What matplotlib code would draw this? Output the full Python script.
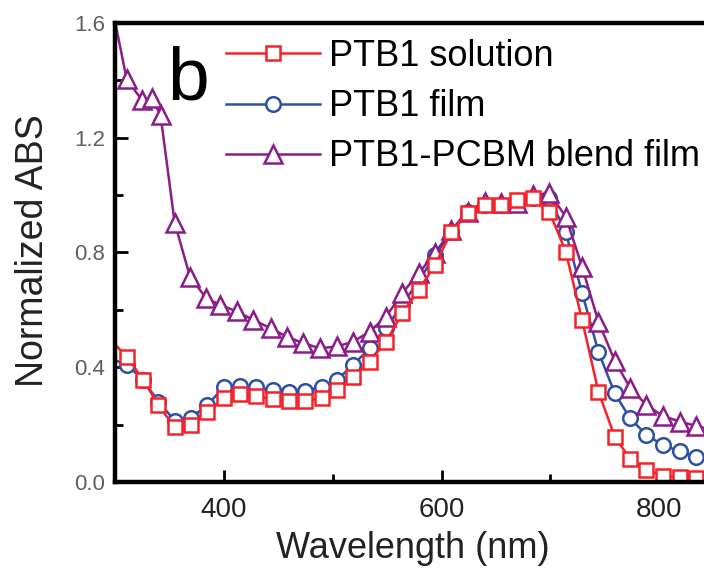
import matplotlib
matplotlib.use('Agg')
import matplotlib.pyplot as plt
from matplotlib.ticker import MultipleLocator, FormatStrFormatter

plt.rcParams['font.family'] = ['Liberation Sans', 'DejaVu Sans']

# wavelength (nm) and normalized absorbance
wl = [300, 311, 326, 340, 355, 370, 385, 400, 415, 430, 445, 460, 475, 490, 504,
      519, 534, 549, 564, 579, 594, 609, 624, 640, 655, 669, 684, 699, 714, 729,
      744, 759, 773, 788, 803, 819, 834, 849]
solution = [0.48, 0.437, 0.356, 0.268, 0.19, 0.20, 0.243, 0.292, 0.306, 0.30, 0.288,
            0.282, 0.282, 0.292, 0.321, 0.364, 0.419, 0.489, 0.588, 0.669, 0.756,
            0.872, 0.937, 0.965, 0.965, 0.983, 0.99, 0.942, 0.803, 0.565, 0.315,
            0.158, 0.08, 0.042, 0.022, 0.016, 0.013, 0.012]
film = [0.425, 0.408, 0.356, 0.28, 0.214, 0.224, 0.268, 0.33, 0.335, 0.33, 0.32,
        0.315, 0.318, 0.331, 0.356, 0.408, 0.466, 0.535, 0.62, 0.70, 0.79, 0.87,
        0.94, 0.965, 0.965, 0.975, 0.99, 0.99, 0.87, 0.66, 0.454, 0.309, 0.222,
        0.164, 0.129, 0.106, 0.088, 0.075]

wl_blend = [300, 311, 325, 334, 342, 355, 369, 384, 397, 412, 427, 443, 458, 473,
            488, 504, 519, 534, 549, 564, 579, 594, 609, 624, 640, 655, 669, 684,
            699, 714, 729, 744, 759, 773, 788, 803, 819, 834, 849]
blend = [1.61, 1.403, 1.331, 1.337, 1.279, 0.904, 0.716, 0.640, 0.617, 0.594, 0.565,
         0.536, 0.506, 0.484, 0.466, 0.472, 0.489, 0.524, 0.576, 0.658, 0.727, 0.797,
         0.878, 0.942, 0.977, 0.971, 0.971, 1.0, 1.006, 0.925, 0.750, 0.559, 0.422,
         0.329, 0.268, 0.23, 0.21, 0.195, 0.18]

labels = ["PTB1 solution", "PTB1 film", "PTB1-PCBM blend film"]
red, blue, purple = "#F5222B", "#2E4FA6", "#8C1C8A"

fig = plt.figure(figsize=(7.04, 5.73), dpi=100)
ax = fig.add_axes([0.163, 0.159, 0.851, 0.801])

kw = dict(lw=1.8, mew=1.8, mfc="white", markevery=slice(1, -1))
h_film, = ax.plot(wl, film, color=blue, marker="o", ms=10.5, **kw)
h_blend, = ax.plot(wl_blend, blend, color=purple, marker="^", ms=12.5, **kw)
h_sol, = ax.plot(wl, solution, color=red, marker="s", ms=9.5, **kw)

ax.set_xlim(300, 850)
ax.set_ylim(0, 1.6)
ax.xaxis.set_major_locator(MultipleLocator(200))
ax.xaxis.set_minor_locator(MultipleLocator(100))
ax.yaxis.set_major_locator(MultipleLocator(0.4))
ax.yaxis.set_minor_locator(MultipleLocator(0.2))
ax.set_xticks([400, 600, 800])
ax.tick_params(which="both", direction="in", top=False, right=False)
ax.tick_params(which="major", length=9, width=2)
ax.tick_params(which="minor", length=6, width=2)
ax.tick_params(axis="x", labelsize=20, pad=11, labelcolor="#222222")
ax.tick_params(axis="y", labelsize=16, pad=7, labelcolor="#606060")
ax.yaxis.set_major_formatter(FormatStrFormatter("%.1f"))
for s in ax.spines.values():
    s.set_linewidth(3.2)

fig.text(33 / 704, 1 - 251 / 573, "Normalized ABS", rotation=90, fontsize=27,
         ha="center", va="center", color="#222222")
fig.text(413 / 704, 1 - 548 / 573, "Wavelength (nm)", fontsize=26,
         ha="center", va="center", color="#222222")
fig.text(167 / 704, 1 - 100 / 573, "b", fontsize=54, ha="left", va="baseline")

fig.legend([h_sol, h_film, h_blend], labels, loc="upper left",
           bbox_to_anchor=(226 / 704, 1 - 39 / 573), frameon=False, fontsize=26,
           handlelength=2.6, handletextpad=0.25, labelspacing=0.42,
           borderpad=0, borderaxespad=0)

fig.savefig("out.png", dpi=100)
